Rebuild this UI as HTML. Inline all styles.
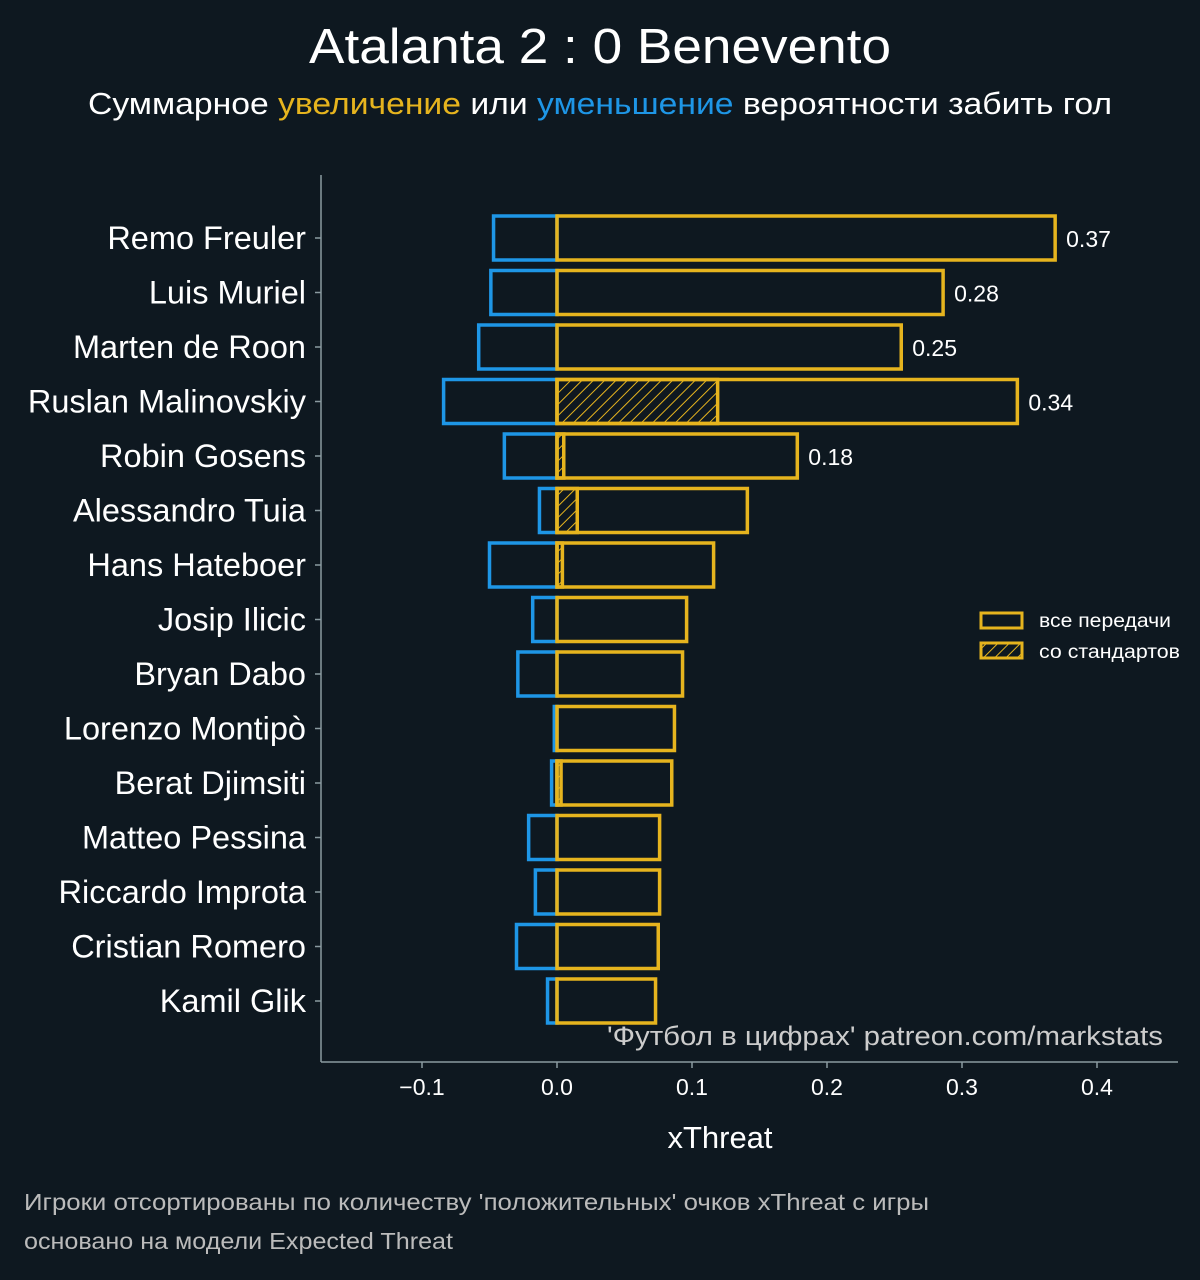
<!DOCTYPE html>
<html><head><meta charset="utf-8"><style>
html,body{margin:0;padding:0;background:#0e1820;}
body{width:1200px;height:1275px;overflow:hidden;font-family:"Liberation Sans","DejaVu Sans",sans-serif;}
</style></head><body>
<svg id="chart" width="1200" height="1275" xmlns="http://www.w3.org/2000/svg" style="font-family:'Liberation Sans','DejaVu Sans',sans-serif">
<defs>
<pattern id="hatch" patternUnits="userSpaceOnUse" width="8" height="8" patternTransform="rotate(45)">
<line x1="0" y1="0" x2="0" y2="8" stroke="#e6b41e" stroke-width="2"/>
</pattern>
</defs>
<rect width="1200" height="1275" fill="#0e1820"/>
<text x="309" y="63" textLength="582" lengthAdjust="spacingAndGlyphs" fill="#ffffff" font-size="49">Atalanta 2 : 0 Benevento</text>
<text x="88" y="114" textLength="1024" lengthAdjust="spacingAndGlyphs" fill="#ffffff" font-size="31">Суммарное <tspan fill="#e6b41e">увеличение</tspan> или <tspan fill="#1e96e6">уменьшение</tspan> вероятности забить гол</text>
<g id="plot"></g>
<text x="607" y="1045" textLength="556" lengthAdjust="spacingAndGlyphs" fill="#cccccc" font-size="27">'Футбол в цифрах' patreon.com/markstats</text>
<text x="720" y="1148" text-anchor="middle" fill="#ffffff" font-size="31">xThreat</text>
<text x="24" y="1210" textLength="905" lengthAdjust="spacingAndGlyphs" fill="#bbbbbb" font-size="23">Игроки отсортированы по количеству 'положительных' очков xThreat с игры</text>
<text x="24" y="1249" textLength="429" lengthAdjust="spacingAndGlyphs" fill="#bbbbbb" font-size="23">основано на модели Expected Threat</text>
<g>
<rect x="981" y="613" width="41" height="15" fill="none" stroke="#e6b41e" stroke-width="3"/>
<text x="1039" y="627" textLength="132" lengthAdjust="spacingAndGlyphs" fill="#ffffff" font-size="19">все передачи</text>
<rect x="981" y="643" width="41" height="15" fill="url(#hatch)" stroke="#e6b41e" stroke-width="3"/>
<text x="1039" y="658" textLength="141" lengthAdjust="spacingAndGlyphs" fill="#ffffff" font-size="19">со стандартов</text>
</g>
</svg>
<script>
const players=["Remo Freuler","Luis Muriel","Marten de Roon","Ruslan Malinovskiy","Robin Gosens","Alessandro Tuia","Hans Hateboer","Josip Ilicic","Bryan Dabo","Lorenzo Montipò","Berat Djimsiti","Matteo Pessina","Riccardo Improta","Cristian Romero","Kamil Glik"];
const positive=[0.369,0.286,0.255,0.341,0.178,0.141,0.116,0.096,0.093,0.087,0.085,0.076,0.076,0.075,0.073];
const negative=[-0.047,-0.049,-0.058,-0.084,-0.039,-0.013,-0.050,-0.018,-0.029,-0.002,-0.004,-0.021,-0.016,-0.030,-0.007];
const setPieces=[0,0,0,0.119,0.005,0.015,0.004,0,0,0,0.003,0,0,0,0];
const valueLabels=["0.37","0.28","0.25","0.34","0.18"];
const xTicks=[-0.1,0.0,0.1,0.2,0.3,0.4];
const xTickLabels=["−0.1","0.0","0.1","0.2","0.3","0.4"];

const NS="http://www.w3.org/2000/svg";
const g=document.getElementById('plot');
const X=v=>557+v*1350;
const Y=i=>238+i*54.5;
const BH=44;
function el(t,a,p){const e=document.createElementNS(NS,t);for(const k in a)e.setAttribute(k,a[k]);(p||g).appendChild(e);return e;}
const ya=el('line',{x1:321,y1:175,x2:321,y2:1062,stroke:'#8a9aa0','stroke-width':1.5});


const xa=el('line',{x1:321,y1:1062,x2:1178,y2:1062,stroke:'#8a9aa0','stroke-width':1.5});


xTicks.forEach((v,i)=>{
  el('line',{x1:X(v),y1:1062,x2:X(v),y2:1068,stroke:'#8a9aa0','stroke-width':1.5});
  const t=el('text',{x:X(v),y:1095,'text-anchor':'middle',fill:'#ffffff','font-size':23});
  t.textContent=xTickLabels[i];
  
  
});
players.forEach((p,i)=>{
  const y=Y(i);
  el('line',{x1:315,y1:y,x2:321,y2:y,stroke:'#8a9aa0','stroke-width':1.5});
  const t=el('text',{x:306,y:y+11,'text-anchor':'end',fill:'#ffffff','font-size':32.5});
  t.textContent=p;
  
  
  const n=el('rect',{x:X(negative[i]),y:y-BH/2,width:X(0)-X(negative[i]),height:BH,fill:'none',stroke:'#1e96e6','stroke-width':3.5});
  
  
  if(setPieces[i]>0){
    const s=el('rect',{x:X(0),y:y-BH/2,width:X(setPieces[i])-X(0),height:BH,fill:'url(#hatch)',stroke:'#e6b41e','stroke-width':3.5});
    
    
  }
  const r=el('rect',{x:X(0),y:y-BH/2,width:X(positive[i])-X(0),height:BH,fill:'none',stroke:'#e6b41e','stroke-width':3.5});
  
  
  if(valueLabels[i]){
    const v=el('text',{x:X(positive[i])+11,y:y+9,fill:'#ffffff','font-size':23});
    v.textContent=valueLabels[i];
    
    
  }
});
</script>
</body></html>
